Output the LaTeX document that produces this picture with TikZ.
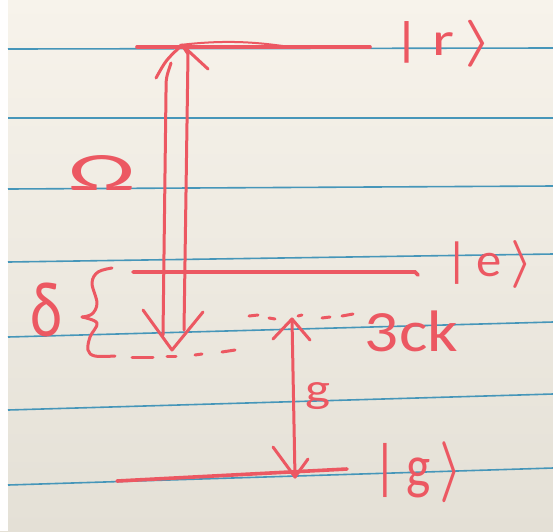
\documentclass[tikz,border=0pt]{standalone}
\usepackage{fontspec}
\setmainfont{Carlito}
\definecolor{paperTop}{RGB}{247,243,235}
\definecolor{paperBot}{RGB}{228,224,214}
\definecolor{ruleblue}{RGB}{70,150,185}
\definecolor{ink}{RGB}{236,88,98}
\newcommand{\fitbox}[3]{\resizebox*{#1}{#2}{#3}}
\newcommand{\ketclose}{{\mathversion{bold}$\rangle$}}
\begin{document}
\begin{tikzpicture}[x=1pt,y=-1pt,
  ruleline/.style={ruleblue, line width=1.6pt},
  level/.style={ink, line width=3.6pt, line cap=round},
  pen/.style={ink, line width=3pt, line cap=round, line join=round},
  thinpen/.style={ink, line width=2pt, line cap=round},
  lbl/.style={text=ink, inner sep=0pt}]
\useasboundingbox (0,0) rectangle (553,531);
\shade[top color=paperTop, bottom color=paperBot] (0,0) rectangle (553,531);
\fill[white!96!paperTop] (0,0) rectangle (8,531);
% ruled paper lines
\draw[ruleline] (8,49) -- (553,48);
\draw[ruleline] (8,118) -- (553,118);
\draw[ruleline] (8,189) -- (553,186);
\draw[ruleline] (8,262) -- (553,254);
\draw[ruleline] (8,337) -- (553,322);
\draw[ruleline] (8,410) -- (553,394);
\draw[ruleline] (8,485) -- (553,468);
% levels
\coordinate (rL) at (137,47); \coordinate (rR) at (370,47);
\coordinate (eL) at (133,272); \coordinate (eR) at (415,272); \coordinate (eH) at (418,275);
\coordinate (gL) at (117,481); \coordinate (gR) at (347,469);
\draw[level] (rL) -- (rR);
\draw[thinpen] (180,45) .. controls (230,39) and (262,43) .. (290,47);
\draw[level] (eL) -- (eR) -- (eH);
\draw[level] (gL) -- (gR);
% double arrow (Omega)
\coordinate (upTip) at (182,45);
\coordinate (upL) at (156,78); \coordinate (upR) at (208,69);
\coordinate (dnTip) at (172,350);
\coordinate (dnL) at (143,310); \coordinate (dnR) at (203,312);
\draw[pen] (upL) .. controls (166,60) .. (upTip) -- (upR);
\draw[pen] (163,335) -- (166,92) .. controls (166,78) .. (171,63);
\draw[pen] (upTip) -- (188,54) -- (184,330);
\draw[pen] (dnL) -- (dnTip) -- (dnR);
% dashed virtual levels
\foreach \a/\b in {{(132,357)/(153,357)},{(167,356)/(176,356)},{(195,355)/(202,354)},{(222,352)/(235,350)},
                   {(249,316)/(258,315)},{(269,318)/(275,319)},{(298,316)/(302,315)},{(322,318)/(330,317)},{(342,316)/(353,314)}}
  \draw[pen] \a -- \b;
% g arrow
\coordinate (gTop) at (292,319); \coordinate (gBot) at (295,477);
\draw[pen] (273,339) -- (gTop) -- (310,340);
\draw[pen] (gTop) -- (gBot);
\draw[pen] (273,447) -- (gBot) -- (308,459);
% brace for delta
\draw[pen] plot[smooth, tension=0.6] coordinates {(112,268) (98,272) (92,283) (97,303) (92,314) (82,317)};
\draw[pen] plot[smooth, tension=0.6] coordinates {(82,317) (97,323) (90,337) (88,350) (95,356) (115,356)};
% labels
\node[lbl] (ketr) at (443,43.5) {\fitbox{100pt}{47pt}{|\,r\,\ketclose}};
\node[lbl] (kete) at (489,264) {\fitbox{88pt}{48pt}{|\,e\,\ketclose}};
\node[lbl] (ketg) at (418,472.5) {\fitbox{88pt}{61pt}{|\,g\,\ketclose}};
\node[lbl] (Om) at (101.5,172.5) {\fitbox{67pt}{35pt}{Ω}};
\node[lbl] (del) at (46,310) {\fitbox{32pt}{54pt}{δ}};
\node[lbl] (gl) at (317.5,396.5) {\fitbox{25pt}{27pt}{g}};
\node[lbl] (ck) at (411.5,331.5) {\fitbox{93pt}{41pt}{3ck}};
\end{tikzpicture}
\end{document}
